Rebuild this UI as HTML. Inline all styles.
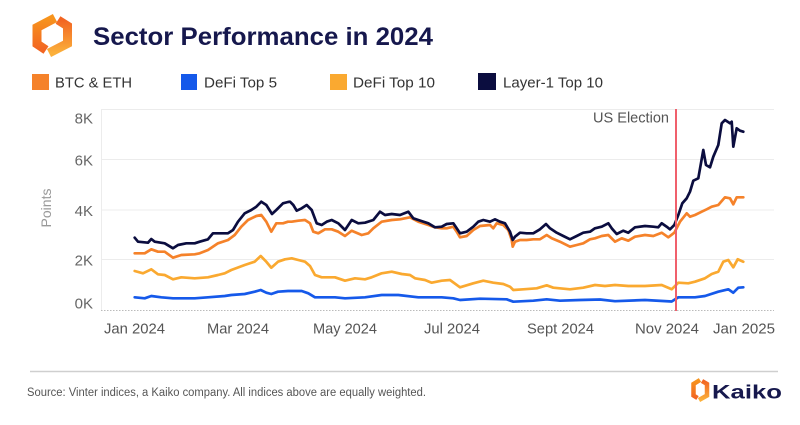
<!DOCTYPE html>
<html><head><meta charset="utf-8"><style>
html,body{margin:0;padding:0;background:#fff;}
svg{display:block;font-family:"Liberation Sans",Arial,sans-serif;}
</style></head><body>
<svg width="800" height="425" viewBox="0 0 800 425" xmlns="http://www.w3.org/2000/svg">
<defs>
<linearGradient id="lg1" x1="0" y1="0" x2="0" y2="1"><stop offset="0" stop-color="#F7941D"/><stop offset="1" stop-color="#F26522"/></linearGradient>
<linearGradient id="lg2" x1="0" y1="0" x2="0" y2="1"><stop offset="0" stop-color="#F26522"/><stop offset="1" stop-color="#FBB03B"/></linearGradient>
</defs>
<rect width="800" height="425" fill="#fff"/>
<!-- logo -->
<polyline points="55,18 37,27.5 37,44 46,50" fill="none" stroke="url(#lg1)" stroke-width="9" stroke-linejoin="miter"/>
<polyline points="58,20 67.5,26 67.5,43.5 49,53" fill="none" stroke="url(#lg2)" stroke-width="9" stroke-linejoin="miter"/>
<text x="93" y="45" font-size="25" font-weight="bold" fill="#16184d" textLength="340" lengthAdjust="spacingAndGlyphs">Sector Performance in 2024</text>
<!-- legend -->
<rect x="32" y="74" width="17" height="16" fill="#F5822A"/>
<text x="55" y="87.5" font-size="15" fill="#333" textLength="77" lengthAdjust="spacingAndGlyphs">BTC &amp; ETH</text>
<rect x="181" y="74" width="16" height="16" fill="#1559EA"/>
<text x="204" y="87.5" font-size="15" fill="#333" textLength="73" lengthAdjust="spacingAndGlyphs">DeFi Top 5</text>
<rect x="330" y="74" width="17" height="16" fill="#FAA930"/>
<text x="353" y="87.5" font-size="15" fill="#333" textLength="82" lengthAdjust="spacingAndGlyphs">DeFi Top 10</text>
<rect x="478" y="73" width="18" height="17" fill="#0B0D3F"/>
<text x="503" y="87.5" font-size="15" fill="#333" textLength="100" lengthAdjust="spacingAndGlyphs">Layer-1 Top 10</text>
<!-- grid -->
<g stroke="#ececec" stroke-width="1">
<line x1="101" y1="109.5" x2="774" y2="109.5"/>
<line x1="101" y1="159.5" x2="774" y2="159.5"/>
<line x1="101" y1="210" x2="774" y2="210"/>
<line x1="101" y1="259.5" x2="774" y2="259.5"/>
<line x1="101.5" y1="109" x2="101.5" y2="310"/>
</g>
<line x1="101" y1="310.5" x2="774" y2="310.5" stroke="#bbb" stroke-width="1" stroke-dasharray="1.5,1.5"/>
<!-- y labels -->
<g font-size="15" fill="#666" text-anchor="end">
<text x="93" y="123.5">8K</text>
<text x="93" y="165.5">6K</text>
<text x="93" y="216">4K</text>
<text x="93" y="265.5">2K</text>
<text x="93" y="308.5">0K</text>
</g>
<text transform="translate(51,208) rotate(-90)" font-size="14" fill="#999" text-anchor="middle">Points</text>
<!-- x labels -->
<g font-size="15" fill="#555">
<text x="104" y="333.5" textLength="61" lengthAdjust="spacingAndGlyphs">Jan 2024</text>
<text x="207" y="333.5" textLength="62" lengthAdjust="spacingAndGlyphs">Mar 2024</text>
<text x="313" y="333.5" textLength="64" lengthAdjust="spacingAndGlyphs">May 2024</text>
<text x="424" y="333.5" textLength="56" lengthAdjust="spacingAndGlyphs">Jul 2024</text>
<text x="527" y="333.5" textLength="67" lengthAdjust="spacingAndGlyphs">Sept 2024</text>
<text x="635" y="333.5" textLength="64" lengthAdjust="spacingAndGlyphs">Nov 2024</text>
<text x="713" y="333.5" textLength="62" lengthAdjust="spacingAndGlyphs">Jan 2025</text>
</g>
<!-- series -->
<g fill="none" stroke-width="2.7" stroke-linejoin="round" stroke-linecap="round">
<polyline stroke="#1559EA" points="134.7,297.3 144.7,298.3 151.3,296 161.3,297.3 173,298.3 194.7,298.3 208,297.3 224.7,296 231.3,295 244.7,294 254.7,291.7 260.7,290 266.3,292.7 271.3,294 278,291.7 288,291 301.7,291 308.3,293.3 315,297.3 335,297.3 345,298.3 365,297.3 381.7,295 398.3,295 418.3,297.3 441.7,297.3 453.3,298.3 460,300 480,298.7 506.7,299.3 513.3,301.7 533.3,300.7 546.7,299.3 560,300.7 580,300 600,299.5 615,301.2 645,300 671.7,301.5 678.3,297.3 695,297.3 705,296 718.3,291.7 728.3,289.3 733.3,292.7 738.3,287.7 743.3,287.3"/>
<polyline stroke="#FAA930" points="134.7,271 143,273.3 151.3,269.3 158,274.3 164.7,275 173,279.3 181.3,277.3 194.7,278.3 208,277.3 218,275 224.7,273.3 231.3,270 244.7,265 254.7,261.7 260.7,256 266.3,261.7 271.3,267.7 278,261.7 285,259.3 291.7,258.3 298.3,260 305,261.7 310,266 315,275 321.7,277.3 335,277.3 345,280.7 355,278.3 365,279.3 371.7,277.3 381.7,273.3 391.7,271.7 401.7,274 410,275 415,278.3 425,280 431.7,282.7 441.7,280.7 450,280 460,287.3 473.3,283.3 483.3,280.7 493.3,282.7 503.3,284 510,286.7 513.3,290 523.3,289.3 536.7,288.3 546.7,285.3 553.3,287.7 570,289.3 583.3,287.7 595,285 605,286 615,285 628.3,286 645,286 661.7,285 671.7,289.3 678.3,282.7 688.3,283.3 695,281.7 705,278.3 711.7,274 718.3,271.7 723.3,261.7 728.3,260 733.3,267.3 737.7,259.3 743.3,261.7"/>
<polyline stroke="#F5822A" points="134.7,253.3 144.7,253.3 151.3,249.3 158,251.7 164.7,251.7 173,257.7 181.3,255 194.7,254.3 199.7,253.3 208,250 218,243.3 228,240 234.7,235 241.3,226.7 248,220 256.3,216 261.3,215 266.3,221.7 271.3,231.7 276.3,223.3 283,223.3 288,221.7 291.7,221.7 298.3,220.7 305,220 310,223.3 313.3,231.7 318.3,233.3 325,229.3 331.7,229.3 338.3,231.7 345,236 351.7,230.7 361.7,235 368.3,233.3 373.3,228.3 381.7,221.7 391.7,220 400,219.3 410,217.3 418.3,221.7 428.3,225 435,227.3 441.7,228.3 446.7,228.3 453.3,226.7 456.7,231.7 460,237.3 466.7,236 473.3,230 480,226 490,225 493.3,228.3 496.7,223.3 503.3,225 508.3,230 511.7,240 512.7,246.7 515,241.7 520,240 526.7,240 533.3,239.3 540,239.3 546.7,235 551.7,238.3 560,241.7 570,246.7 576.7,245 583.3,243.3 590,239.3 595,238.3 601.7,236 608.3,235 615,241.7 621.7,238.3 628.3,240.7 635,236.7 645,235 653.3,236 661.7,232.7 668.3,237.3 674.3,232.7 680,221.7 686.7,213.3 690,216.7 695,215 701.7,211.7 706.7,209.3 711.7,206.7 718.3,205 725,197.3 730,198.3 733.3,204.3 736.7,197.3 743.3,197.3"/>
<polyline stroke="#0B0D3F" points="134.7,237.7 138,241.7 148,242.7 151.3,239 154.7,241.7 164.7,243.3 173,248.3 178,245 186.3,243.3 194.7,243.3 199.7,241.7 208,239.3 213,233.3 219.7,233.3 228,233.3 233,230 238,221.7 244.7,213.3 251.3,210 256.3,206.7 261.3,201.7 266.3,205 272,214 276.3,210 283,203.3 288,202 290,201.7 293.3,205 296.7,210.7 301.7,208.3 306.7,205 311.7,210 316.7,223.3 321.7,225 326.7,221.7 331.7,220 338.3,223.3 345,230 351.7,220 358.3,223.3 365,222.7 373.3,220 380,211.7 385,215 391.7,214 400,215 408.3,211.7 413.3,218.3 418.3,220 428.3,223.3 435,227.3 441.7,226.7 446.7,224 453.3,223.3 456.7,228.3 460,233.3 466.7,231.7 473.3,226.7 478.3,221.7 483.3,220 490,221.7 495,219.3 500,221.7 505,223.3 510,231.7 512.7,240 515,236.7 520,232.7 526.7,233.3 533.3,233.3 540,229.3 546,224 550,228.3 556.7,232.7 563.3,236 570,239.3 576.7,236 583.3,232.7 590,231.7 595,228.3 601.7,226.7 608.3,223.3 611.7,228.3 616.7,234 623.3,230.7 628.3,232.7 635,227.3 645,226 653.3,226.7 658.3,227.3 661.7,223.3 666.7,226.7 670,229.3 674.3,225 678.3,215 682.3,203.3 686.7,198.3 690,191.7 693.3,180.7 698.3,178.3 703.3,150 706,165 710,167.3 713.3,156.7 718.3,145 721.7,123.3 725,120 730,123.3 731.7,121.7 733.3,146.7 736.7,128.3 740,130.7 743.3,131.7"/>
</g>
<!-- election line -->
<line x1="676" y1="109" x2="676" y2="311" stroke="#F0606C" stroke-width="2"/>
<text x="593" y="122.5" font-size="15" fill="#555" textLength="76" lengthAdjust="spacingAndGlyphs">US Election</text>
<!-- footer -->
<line x1="30" y1="371.5" x2="778" y2="371.5" stroke="#cfcfcf" stroke-width="1.5"/>
<text x="27" y="396" font-size="11.5" fill="#555" textLength="399" lengthAdjust="spacingAndGlyphs">Source: Vinter indices, a Kaiko company. All indices above are equally weighted.</text>
<polyline points="700,380 693.5,384 693.5,395.5 697.5,398" fill="none" stroke="url(#lg1)" stroke-width="4.5"/>
<polyline points="702,381 707,384 707,395.5 699,400" fill="none" stroke="url(#lg2)" stroke-width="4.5"/>
<text x="712" y="398.5" font-size="19" font-weight="bold" fill="#16184d" textLength="70" lengthAdjust="spacingAndGlyphs">Kaiko</text>
</svg>
</body></html>
